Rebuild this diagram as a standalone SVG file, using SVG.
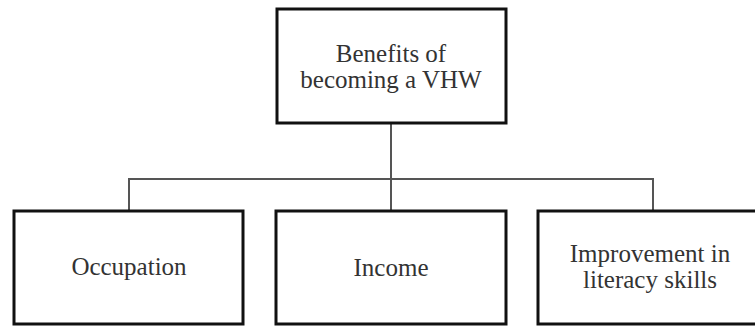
<svg xmlns="http://www.w3.org/2000/svg" width="755" height="327" viewBox="0 0 755 327">
<style>
.box{fill:#fff;stroke:#111;stroke-width:3}
.t{font-family:"Liberation Serif","Times New Roman",serif;font-size:25px;fill:#333;text-anchor:middle}
.c{fill:none;stroke:#555;stroke-width:2}
</style>
<rect width="755" height="327" fill="#fff"/>
<g id="connectors">
<path class="c" d="M391 123V179M129 211V179H653V211M391 179V211"/>
</g>
<g id="top">
<rect class="box" x="277" y="9" width="229" height="114"/>
<text class="t" x="391" y="62">Benefits of</text>
<text class="t" x="391" y="88">becoming a VHW</text>
</g>
<g id="occupation">
<rect class="box" x="14" y="211" width="229" height="113"/>
<text class="t" x="129" y="275">Occupation</text>
</g>
<g id="income">
<rect class="box" x="276" y="211" width="230" height="113"/>
<text class="t" x="391" y="276">Income</text>
</g>
<g id="literacy">
<rect class="box" x="538" y="211" width="230" height="113"/>
<text class="t" x="650" y="262">Improvement in</text>
<text class="t" x="650" y="288">literacy skills</text>
</g>
</svg>
